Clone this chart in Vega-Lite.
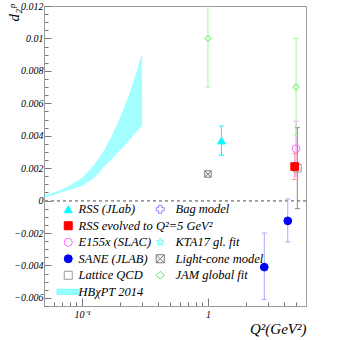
{
 "$schema": "https://vega.github.io/schema/vega-lite/v6.json",
 "width": 262, "height": 300,
 "autosize": "none",
 "padding": {"left": 44, "top": 6, "right": 34, "bottom": 34},
 "background": "white",
 "config": {
   "view": {"stroke": "#999999", "strokeWidth": 1},
   "font": "Liberation Serif",
   "axis": {"domainColor": "#999999", "tickColor": "#777777", "labelFont": "Liberation Serif", "labelFontStyle": "italic", "labelFontSize": 10, "labelColor": "#000000", "grid": false, "labelOverlap": false, "labelFlush": false, "titleFont": "Liberation Serif", "titleFontStyle": "italic", "titleFontWeight": "normal", "titleColor": "#000000"},
   "legend": {"labelFont": "Liberation Serif", "labelFontStyle": "italic", "labelFontSize": 12.5, "labelColor": "#000000", "symbolStrokeWidth": 1, "padding": 0, "rowPadding": 3.5, "symbolSize": 64}
 },
 "datasets": {
   "band": [
     {"q2": 0.05, "lo": 0.0002, "hi": 0.00035},
     {"q2": 0.06, "lo": 0.00035, "hi": 0.0005},
     {"q2": 0.075, "lo": 0.0006, "hi": 0.0008},
     {"q2": 0.1, "lo": 0.0009, "hi": 0.0014},
     {"q2": 0.125, "lo": 0.0014, "hi": 0.0022},
     {"q2": 0.15, "lo": 0.0021, "hi": 0.0031},
     {"q2": 0.175, "lo": 0.0026, "hi": 0.0041},
     {"q2": 0.2, "lo": 0.0031, "hi": 0.0051},
     {"q2": 0.225, "lo": 0.0035, "hi": 0.0061},
     {"q2": 0.25, "lo": 0.0039, "hi": 0.0071},
     {"q2": 0.275, "lo": 0.0043, "hi": 0.0081},
     {"q2": 0.3, "lo": 0.0046, "hi": 0.0091}
   ],
   "ptsA": [
     {"series": "RSS (JLab)", "q2": 1.28, "d2": 0.0037, "lo": 0.0028, "hi": 0.0046},
     {"series": "E155x (SLAC)", "q2": 5.0, "d2": 0.0032, "lo": 0.0015, "hi": 0.0049},
     {"series": "Lattice QCD", "q2": 5.12, "d2": 0.0020, "lo": -0.0005, "hi": 0.0045},
     {"series": "RSS evolved to Q²=5 GeV²", "q2": 4.88, "d2": 0.0021, "lo": 0.0013, "hi": 0.0029},
     {"series": "SANE (JLAB)", "q2": 2.8, "d2": -0.0041, "lo": -0.0061, "hi": -0.0020},
     {"series": "SANE (JLAB)", "q2": 4.3, "d2": -0.00125, "lo": -0.00255, "hi": 0.0001}
   ],
   "ptsB": [
     {"series": "Light-cone model", "q2": 1.0, "d2": 0.00164},
     {"series": "JAM global fit", "q2": 1.0, "d2": 0.0100, "lo": 0.0070, "hi": 0.0130},
     {"series": "JAM global fit", "q2": 5.0, "d2": 0.0070, "lo": 0.0040, "hi": 0.0100}
   ]
 },
 "encoding": {
   "x": {"field": "q2", "type": "quantitative", "title": "Q²(GeV²)", "scale": {"type": "log", "domain": [0.05, 6], "nice": false},
         "axis": {"values": [0.06, 0.07, 0.08, 0.09, 0.1, 0.2, 0.3, 0.4, 0.5, 0.6, 0.7, 0.8, 0.9, 1, 2, 3, 4, 5],
                  "tickCount": 100,
                  "labelExpr": "datum.value == 0.1 ? '10⁻¹' : (datum.value == 1 ? '1' : '')",
                  "tickSize": {"condition": {"test": "datum.value == 0.1 || datum.value == 1", "value": -8}, "value": -4},
                  "labelAlign": "center", "labelBaseline": "top", "labelOverlap": false,
                  "labelPadding": 11, "titleAlign": "right", "titleAnchor": "end", "titleX": 262, "titleY": 27, "titleBaseline": "alphabetic", "titleFontSize": 15}}
 },
 "layer": [
    {
     "data": {"name": "band"},
     "mark": {"type": "area", "color": "#33ffff", "opacity": 0.45},
     "encoding": {
       "y": {"field": "lo", "type": "quantitative", "title": "d₂ᵖ", "scale": {"domain": [-0.0065, 0.012], "nice": false, "zero": false},
             "axis": {"values": [-0.0065, -0.006, -0.0055, -0.005, -0.0045, -0.004, -0.0035, -0.003, -0.0025, -0.002, -0.0015, -0.001, -0.0005, 0, 0.0005, 0.001, 0.0015, 0.002, 0.0025, 0.003, 0.0035, 0.004, 0.0045, 0.005, 0.0055, 0.006, 0.0065, 0.007, 0.0075, 0.008, 0.0085, 0.009, 0.0095, 0.01, 0.0105, 0.011, 0.0115, 0.012],
                      "tickCount": 100,
                      "format": "~g",
                      "labelExpr": "abs(datum.value*500 - round(datum.value*500)) < 0.01 ? datum.label : ''",
                      "tickSize": {"condition": {"test": "abs(datum.value*500 - round(datum.value*500)) < 0.01", "value": -7}, "value": -4},
                      "labelAlign": "right", "labelBaseline": "middle", "labelOverlap": false,
                      "labelPadding": 8, "titleAngle": -90, "titleAlign": "right", "titleAnchor": "end", "titleX": -26, "titleY": -2, "titleBaseline": "alphabetic", "titleFontSize": 15}},
       "y2": {"field": "hi"}
     }
    },
    {
     "data": {"name": "band"},
     "mark": {"type": "rule", "color": "#999999", "strokeDash": [3, 3], "strokeWidth": 1},
     "encoding": {"x": null, "y": {"datum": 0, "type": "quantitative"}}
    },
    {
     "data": {"name": "ptsA"},
     "mark": {"type": "rule", "clip": true, "strokeWidth": 1},
     "encoding": {
       "y": {"field": "lo", "type": "quantitative"},
       "y2": {"field": "hi"},
       "stroke": {"field": "series", "type": "nominal", "legend": null,
         "scale": {"domain": ["RSS (JLab)", "RSS evolved to Q²=5 GeV²", "E155x (SLAC)", "SANE (JLAB)", "Lattice QCD", "HBχPT 2014"],
                   "range": ["#00ffff", "#ff9999", "#ff99ff", "#aaaaff", "#888888", "#99ffff"]}}
     }
    },
    {
     "data": {"name": "ptsA"},
     "transform": [{"fold": ["lo", "hi"], "as": ["end", "yv"]}],
     "mark": {"type": "point", "shape": "stroke", "size": 25, "clip": true, "strokeWidth": 1, "opacity": 1, "filled": false},
     "encoding": {
       "y": {"field": "yv", "type": "quantitative"},
       "stroke": {"field": "series", "type": "nominal", "legend": null,
         "scale": {"domain": ["RSS (JLab)", "RSS evolved to Q²=5 GeV²", "E155x (SLAC)", "SANE (JLAB)", "Lattice QCD", "HBχPT 2014"],
                   "range": ["#00ffff", "#ff9999", "#ff99ff", "#aaaaff", "#888888", "#99ffff"]}}
     }
    },
    {
     "data": {"name": "ptsB"},
     "mark": {"type": "rule", "clip": true, "strokeWidth": 1},
     "encoding": {
       "y": {"field": "lo", "type": "quantitative"},
       "y2": {"field": "hi"},
       "stroke": {"field": "series", "type": "nominal", "legend": null,
         "scale": {"domain": ["Bag model", " ", "KTA17 gl. fit", "Light-cone model", "JAM global fit"],
                   "range": ["#9999ff", "transparent", "#66ffff", "#999999", "#99ff99"]}}
     }
    },
    {
     "data": {"name": "ptsB"},
     "transform": [{"fold": ["lo", "hi"], "as": ["end", "yv"]}],
     "mark": {"type": "point", "shape": "stroke", "size": 25, "clip": true, "strokeWidth": 1, "opacity": 1, "filled": false},
     "encoding": {
       "y": {"field": "yv", "type": "quantitative"},
       "stroke": {"field": "series", "type": "nominal", "legend": null,
         "scale": {"domain": ["Bag model", " ", "KTA17 gl. fit", "Light-cone model", "JAM global fit"],
                   "range": ["#9999ff", "transparent", "#66ffff", "#999999", "#99ff99"]}}
     }
    },
    {
     "data": {"name": "ptsA"},
     "mark": {"type": "point", "filled": false, "opacity": 1, "strokeWidth": 1, "size": 60},
     "encoding": {
       "y": {"field": "d2", "type": "quantitative"},
       "shape": {"field": "series", "type": "nominal",
         "scale": {"domain": ["RSS (JLab)", "RSS evolved to Q²=5 GeV²", "E155x (SLAC)", "SANE (JLAB)", "Lattice QCD", "HBχPT 2014"],
                   "range": ["triangle-up", "square", "circle", "circle", "square", "M-2.8,-0.6L2.8,-0.6L2.8,0.6L-2.8,0.6Z"]},
         "legend": {"title": null, "orient": "none", "legendX": 18, "legendY": 197}},
       "color": {"field": "series", "type": "nominal",
         "scale": {"domain": ["RSS (JLab)", "RSS evolved to Q²=5 GeV²", "E155x (SLAC)", "SANE (JLAB)", "Lattice QCD", "HBχPT 2014"],
                   "range": ["#00ffff", "#ff0000", "#ff66ff", "#0000ff", "#999999", "#66ffff"]},
         "legend": {"title": null, "orient": "none", "legendX": 18, "legendY": 197}},
       "fill": {"field": "series", "type": "nominal",
         "scale": {"domain": ["RSS (JLab)", "RSS evolved to Q²=5 GeV²", "E155x (SLAC)", "SANE (JLAB)", "Lattice QCD", "HBχPT 2014"],
                   "range": ["#00ffff", "#ff0000", "transparent", "#0000ff", "transparent", "#99ffff"]},
         "legend": {"title": null, "orient": "none", "legendX": 18, "legendY": 197}}
     }
    },
    {
     "data": {"name": "ptsB"},
     "mark": {"type": "point", "filled": false, "opacity": 1, "strokeWidth": 1, "size": 40},
     "encoding": {
       "y": {"field": "d2", "type": "quantitative"},
       "shape": {"field": "series", "type": "nominal",
         "scale": {"domain": ["Bag model", " ", "KTA17 gl. fit", "Light-cone model", "JAM global fit"],
                   "range": ["cross", "circle", "M0,-1L0.235,-0.324L0.951,-0.309L0.380,0.124L0.588,0.809L0,0.4L-0.588,0.809L-0.380,0.124L-0.951,-0.309L-0.235,-0.324Z", "M-1,-1L1,-1L1,1L-1,1Z M-1,-1L1,1 M1,-1L-1,1", "diamond"]},
         "legend": {"title": null, "orient": "none", "legendX": 110, "legendY": 197, "labelOffset": 9}},
       "color": {"field": "series", "type": "nominal",
         "scale": {"domain": ["Bag model", " ", "KTA17 gl. fit", "Light-cone model", "JAM global fit"],
                   "range": ["#8888ff", "transparent", "#55ffff", "#777777", "#55ee55"]},
         "legend": {"title": null, "orient": "none", "legendX": 110, "legendY": 197, "labelOffset": 9}},
       "fill": {"field": "series", "type": "nominal",
         "scale": {"domain": ["Bag model", " ", "KTA17 gl. fit", "Light-cone model", "JAM global fit"],
                   "range": ["transparent", "transparent", "transparent", "transparent", "transparent"]},
         "legend": {"title": null, "orient": "none", "legendX": 110, "legendY": 197, "labelOffset": 9}}
     }
    }
 ],
 "resolve": {"scale": {"color": "independent", "fill": "independent", "shape": "independent", "stroke": "independent"}}
}
